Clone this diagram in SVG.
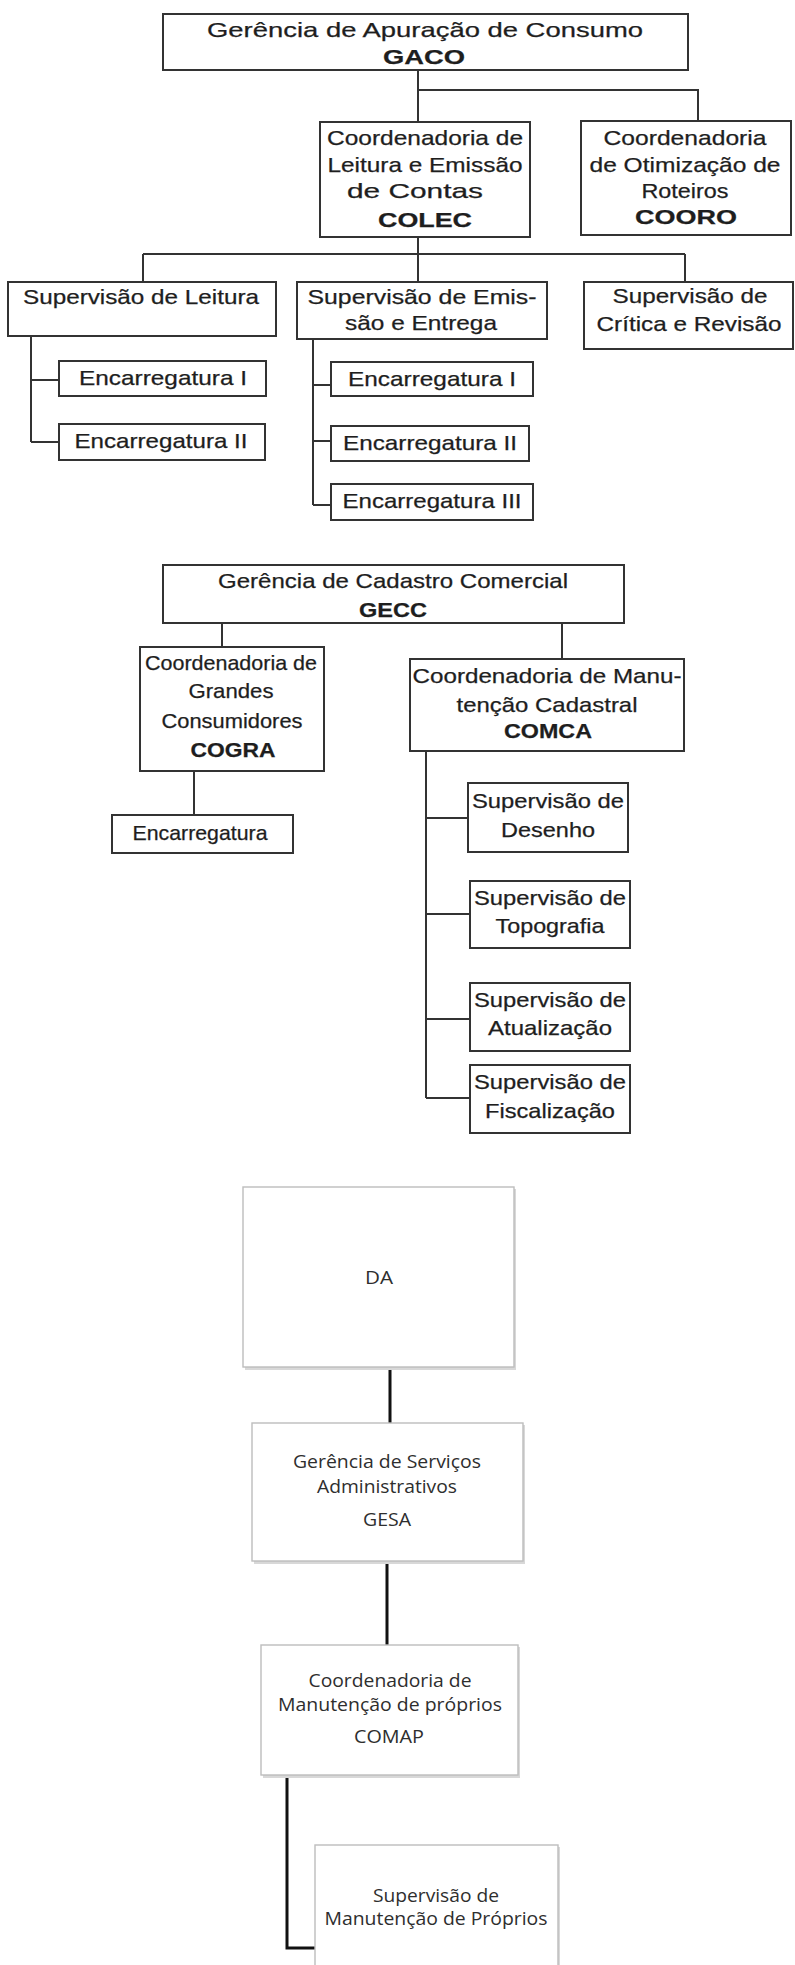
<svg xmlns="http://www.w3.org/2000/svg" width="795" height="1965" viewBox="0 0 795 1965">
<style>
.box{fill:#fff;stroke:#333;stroke-width:2}
.t{font-family:"Liberation Sans",Arial,sans-serif;font-size:21px;fill:#1e1e1e;text-anchor:middle;stroke:#1e1e1e;stroke-width:0.25}
.b{font-weight:bold}
.box2{fill:#fff;stroke:#bdbdbd;stroke-width:1.4}
.sh{fill:#d8d8d8}
.c{font-family:"Open Sans","Noto Sans",sans-serif;font-size:19px;fill:#2e2e2e;text-anchor:middle}
.ln{fill:none;stroke:#333;stroke-width:2}
.ln2{fill:none;stroke:#111;stroke-width:3}
</style>
<rect x="0" y="0" width="795" height="1965" fill="#fff"/>
<g id="connectors">
<path class="ln" d="M418 70 V122 M418 90 H698 V121"/>
<path class="ln" d="M418 237 V282 M143 254 H685 M143 254 V282 M685 254 V282"/>
<path class="ln" d="M31 336 V442 M31 380 H59 M31 442 H59"/>
<path class="ln" d="M313 339 V505 M313 385 H331 M313 441 H331 M313 505 H331"/>
<path class="ln" d="M222 623 V647 M194 771 V815"/>
<path class="ln" d="M562 623 V659 M426 751 V1098 M426 818 H468 M426 914 H470 M426 1019 H470 M426 1098 H470"/>
<path class="ln2" d="M390 1367 V1423 M387 1561 V1645 M287 1775 V1948 H315"/>
</g>
<g id="gaco"><rect class="box" x="163" y="14" width="525" height="56"/>
<text class="t" x="425" y="37" textLength="436" lengthAdjust="spacingAndGlyphs">Gerência de Apuração de Consumo</text>
<text class="t b" x="424" y="64" textLength="82" lengthAdjust="spacingAndGlyphs">GACO</text></g>
<g id="colec"><rect class="box" x="320" y="122" width="210" height="115"/>
<text class="t" x="425" y="145" textLength="196" lengthAdjust="spacingAndGlyphs">Coordenadoria de</text>
<text class="t" x="425" y="172" textLength="195" lengthAdjust="spacingAndGlyphs">Leitura e Emissão</text>
<text class="t" x="415" y="198" textLength="136" lengthAdjust="spacingAndGlyphs">de Contas</text>
<text class="t b" x="425" y="227" textLength="94" lengthAdjust="spacingAndGlyphs">COLEC</text></g>
<g id="cooro"><rect class="box" x="581" y="121" width="210" height="114"/>
<text class="t" x="685" y="145" textLength="163" lengthAdjust="spacingAndGlyphs">Coordenadoria</text>
<text class="t" x="685" y="172" textLength="191" lengthAdjust="spacingAndGlyphs">de Otimização de</text>
<text class="t" x="685" y="198" textLength="87" lengthAdjust="spacingAndGlyphs">Roteiros</text>
<text class="t b" x="686" y="224" textLength="102" lengthAdjust="spacingAndGlyphs">COORO</text></g>
<g id="sup-leitura"><rect class="box" x="8" y="282" width="268" height="54"/>
<text class="t" x="141" y="304" textLength="236" lengthAdjust="spacingAndGlyphs">Supervisão de Leitura</text></g>
<g id="sup-emissao"><rect class="box" x="297" y="282" width="250" height="57"/>
<text class="t" x="422" y="304" textLength="229" lengthAdjust="spacingAndGlyphs">Supervisão de Emis-</text>
<text class="t" x="421" y="330" textLength="152" lengthAdjust="spacingAndGlyphs">são e Entrega</text></g>
<g id="sup-critica"><rect class="box" x="584" y="282" width="209" height="67"/>
<text class="t" x="690" y="303" textLength="155" lengthAdjust="spacingAndGlyphs">Supervisão de</text>
<text class="t" x="689" y="331" textLength="185" lengthAdjust="spacingAndGlyphs">Crítica e Revisão</text></g>
<g id="enc-l1"><rect class="box" x="59" y="361" width="207" height="35"/>
<text class="t" x="163" y="385" textLength="168" lengthAdjust="spacingAndGlyphs">Encarregatura I</text></g>
<g id="enc-l2"><rect class="box" x="59" y="424" width="206" height="36"/>
<text class="t" x="161" y="448" textLength="173" lengthAdjust="spacingAndGlyphs">Encarregatura II</text></g>
<g id="enc-e1"><rect class="box" x="331" y="362" width="202" height="34"/>
<text class="t" x="432" y="386" textLength="168" lengthAdjust="spacingAndGlyphs">Encarregatura I</text></g>
<g id="enc-e2"><rect class="box" x="331" y="426" width="198" height="35"/>
<text class="t" x="430" y="450" textLength="174" lengthAdjust="spacingAndGlyphs">Encarregatura II</text></g>
<g id="enc-e3"><rect class="box" x="331" y="484" width="202" height="36"/>
<text class="t" x="432" y="508" textLength="179" lengthAdjust="spacingAndGlyphs">Encarregatura III</text></g>
<g id="gecc"><rect class="box" x="163" y="565" width="461" height="58"/>
<text class="t" x="393" y="588" textLength="350" lengthAdjust="spacingAndGlyphs">Gerência de Cadastro Comercial</text>
<text class="t b" x="393" y="617" textLength="68" lengthAdjust="spacingAndGlyphs">GECC</text></g>
<g id="cogra"><rect class="box" x="140" y="647" width="184" height="124"/>
<text class="t" x="231" y="670" textLength="172" lengthAdjust="spacingAndGlyphs">Coordenadoria de</text>
<text class="t" x="231" y="698" textLength="85" lengthAdjust="spacingAndGlyphs">Grandes</text>
<text class="t" x="232" y="728" textLength="141" lengthAdjust="spacingAndGlyphs">Consumidores</text>
<text class="t b" x="233" y="757" textLength="85" lengthAdjust="spacingAndGlyphs">COGRA</text></g>
<g id="enc-cogra"><rect class="box" x="112" y="815" width="181" height="38"/>
<text class="t" x="200" y="840" textLength="135" lengthAdjust="spacingAndGlyphs">Encarregatura</text></g>
<g id="comca"><rect class="box" x="410" y="659" width="274" height="92"/>
<text class="t" x="547" y="683" textLength="269" lengthAdjust="spacingAndGlyphs">Coordenadoria de Manu-</text>
<text class="t" x="547" y="712" textLength="181" lengthAdjust="spacingAndGlyphs">tenção Cadastral</text>
<text class="t b" x="548" y="738" textLength="88" lengthAdjust="spacingAndGlyphs">COMCA</text></g>
<g id="sup-desenho"><rect class="box" x="468" y="783" width="160" height="69"/>
<text class="t" x="548" y="808" textLength="152" lengthAdjust="spacingAndGlyphs">Supervisão de</text>
<text class="t" x="548" y="837" textLength="94" lengthAdjust="spacingAndGlyphs">Desenho</text></g>
<g id="sup-topografia"><rect class="box" x="470" y="881" width="160" height="67"/>
<text class="t" x="550" y="905" textLength="152" lengthAdjust="spacingAndGlyphs">Supervisão de</text>
<text class="t" x="550" y="933" textLength="109" lengthAdjust="spacingAndGlyphs">Topografia</text></g>
<g id="sup-atualizacao"><rect class="box" x="470" y="983" width="160" height="68"/>
<text class="t" x="550" y="1007" textLength="152" lengthAdjust="spacingAndGlyphs">Supervisão de</text>
<text class="t" x="550" y="1035" textLength="124" lengthAdjust="spacingAndGlyphs">Atualização</text></g>
<g id="sup-fiscalizacao"><rect class="box" x="470" y="1065" width="160" height="68"/>
<text class="t" x="550" y="1089" textLength="152" lengthAdjust="spacingAndGlyphs">Supervisão de</text>
<text class="t" x="550" y="1118" textLength="130" lengthAdjust="spacingAndGlyphs">Fiscalização</text></g>
<g id="da"><rect class="sh" x="245" y="1189" width="271" height="181"/><rect class="box2" x="243" y="1187" width="271" height="180"/>
<text class="c" x="379" y="1284" textLength="28" lengthAdjust="spacingAndGlyphs">DA</text></g>
<g id="gesa"><rect class="sh" x="254" y="1425" width="271" height="139"/><rect class="box2" x="252" y="1423" width="271" height="138"/>
<text class="c" x="387" y="1468" textLength="188" lengthAdjust="spacingAndGlyphs">Gerência de Serviços</text>
<text class="c" x="387" y="1493" textLength="140" lengthAdjust="spacingAndGlyphs">Administrativos</text>
<text class="c" x="387" y="1526" textLength="48" lengthAdjust="spacingAndGlyphs">GESA</text></g>
<g id="comap"><rect class="sh" x="263" y="1647" width="257" height="131"/><rect class="box2" x="261" y="1645" width="257" height="130"/>
<text class="c" x="390" y="1687" textLength="163" lengthAdjust="spacingAndGlyphs">Coordenadoria de</text>
<text class="c" x="390" y="1711" textLength="224" lengthAdjust="spacingAndGlyphs">Manutenção de próprios</text>
<text class="c" x="389" y="1743" textLength="70" lengthAdjust="spacingAndGlyphs">COMAP</text></g>
<g id="sup-manutencao"><rect class="sh" x="317" y="1847" width="243" height="130"/><rect class="box2" x="315" y="1845" width="243" height="130"/>
<text class="c" x="436" y="1902" textLength="126" lengthAdjust="spacingAndGlyphs">Supervisão de</text>
<text class="c" x="436" y="1925" textLength="223" lengthAdjust="spacingAndGlyphs">Manutenção de Próprios</text></g>
</svg>
